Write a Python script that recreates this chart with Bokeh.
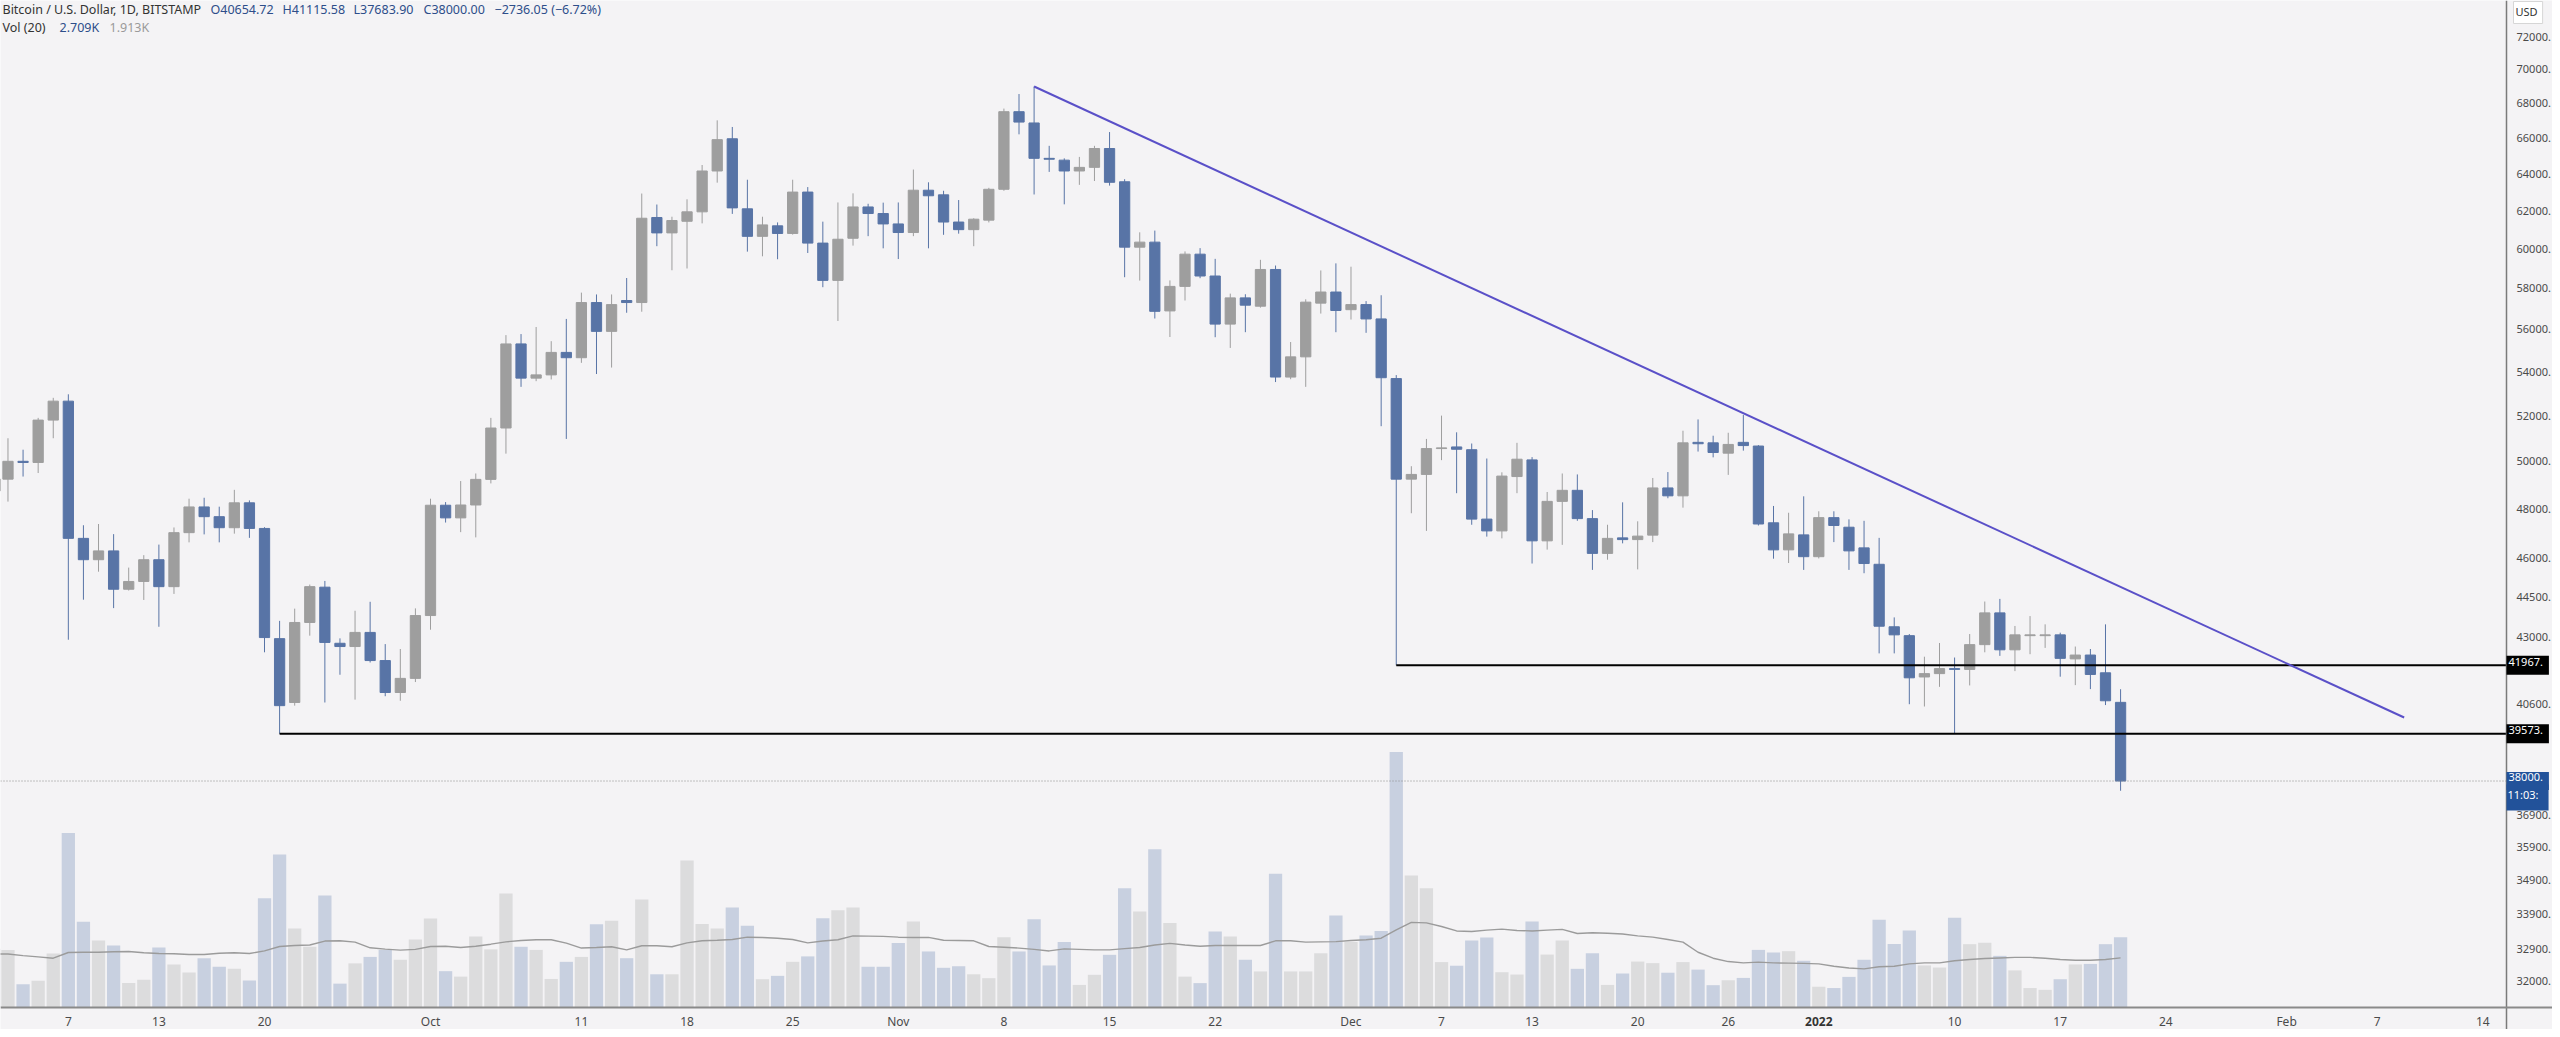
import math
import pandas as pd
from bokeh.plotting import figure
from bokeh.models import Range1d, LinearScale, Label, ColumnDataSource
from bokeh.core.properties import value
from bokeh.embed import file_html
from bokeh.resources import INLINE

# ---------------- data ----------------
first_day = "2021-09-02"
last_day = "2022-01-21"

opens = [
    48750, 49240, 50000, 49950, 51800, 52650, 46800, 45950, 46300, 44800,
    45100, 45950, 44900, 47030, 48080, 47680, 47230, 48250, 47200, 42940,
    40650, 43540, 44880, 42770, 42650, 43170, 42140, 41000, 41500,
    43800, 48150, 47630, 48160, 49230, 51450, 55300, 53700, 53850, 54900,
    54650, 57300, 55900, 57400, 57300, 61640, 60830, 61440, 61940, 64150,
    65950, 62100, 60650, 61200, 60800, 63000, 60300, 58400, 60550, 62200, 61850,
    61300, 60850, 63100, 62850, 61400, 61000, 61500, 63150, 67500, 66850,
    64850, 64750, 64150, 64350, 65400, 63560, 60090, 60350, 56890, 58100,
    59730, 58620, 56250, 57530, 57120, 58950, 53750, 54690, 57270, 57820,
    56950, 57200, 56500, 53680, 49240, 49440, 50550, 50620, 50500, 47580,
    47100, 49350, 50060, 46700, 48310, 48770, 47600, 46200, 46820, 46750,
    46930, 48870, 48540, 50820, 50800, 50350, 50820, 50660, 47430, 46340, 46940,
    46070, 47640, 47250, 46420, 45770, 43380, 43050, 41550, 41670, 41850,
    41820, 42720, 43900, 42530, 43050, 43050, 43080, 42200, 42340, 41700, 40654.72]

highs = [
    50400, 51000, 50500, 51900, 52800, 52960, 47330, 47380, 46970, 45640,
    46130, 46550, 47240, 48420, 48460, 48090, 48790, 48350, 47250, 43600,
    44060, 44980, 45120, 42950, 43980, 44320, 42740, 42560, 44070,
    48420, 48280, 49160, 49480, 51900, 55720, 55770, 56110, 55430, 56500,
    57790, 57700, 57700, 58520, 62920, 62330, 61680, 62610, 64480, 67000,
    66620, 63670, 61680, 61380, 63670, 63270, 61420, 62440, 62930, 62370, 62430,
    62440, 64230, 63530, 63070, 62570, 61600, 63230, 67680, 68530, 68975,
    65550, 64850, 64930, 65550, 66330, 63700, 60860, 60950, 58400, 59870,
    60040, 59490, 57740, 57710, 59440, 59150, 55390, 57460, 58900, 59260,
    59090, 57370, 57660, 53840, 49790, 50970, 52000, 51260, 50770, 50120,
    49530, 50800, 50180, 48700, 49480, 49440, 47950, 47350, 48270, 47490,
    49290, 49540, 51330, 51830, 51110, 51240, 52030, 50700, 48120, 47840, 48520,
    47900, 47900, 47570, 47510, 46820, 43730, 43110, 42280, 42780, 42250,
    43110, 44330, 44430, 43410, 43780, 43470, 43160, 42650, 42560, 43470, 41115.58]

lows = [
    48560, 48300, 49350, 49500, 51000, 42900, 44400, 45480, 44080, 44750,
    44390, 43380, 44620, 46640, 46960, 46640, 46990, 46820, 42440, 39573,
    40540, 43050, 40650, 41630, 40750, 42070, 40870, 40710, 41370,
    43270, 47440, 47050, 46840, 49060, 50330, 53300, 53560, 53640, 50970,
    54410, 53890, 54190, 56800, 56850, 60140, 58910, 59000, 61330, 63510,
    61830, 59860, 59620, 59470, 60740, 59790, 58060, 56400, 60170, 60660, 60030,
    59480, 60660, 60030, 60730, 60790, 60140, 61380, 63070, 66200, 62870,
    64100, 62340, 63390, 63600, 63350, 58560, 58390, 56520, 55630, 57400,
    58510, 55620, 55110, 55860, 57050, 53520, 53650, 53300, 56760, 55860,
    56470, 55830, 51530, 41967, 47820, 47100, 50050, 48650, 47350, 46870,
    46800, 48650, 45800, 46350, 46540, 47510, 45550, 45950, 46600, 45570,
    46650, 48440, 48050, 50420, 50170, 49420, 50460, 47320, 45990, 45820, 45550,
    46000, 46650, 45550, 45420, 42400, 42400, 40590, 40510, 41200, 39580,
    41250, 42440, 42310, 41760, 42370, 42600, 41560, 41260, 41120, 40560, 37683.90]

closes = [
    49240, 50000, 49950, 51800, 52650, 46800, 45950, 46300, 44800, 45100,
    45950, 44900, 47030, 48080, 47680, 47230, 48250, 47200, 42980, 40540,
    43540, 44900, 42800, 42650, 43170, 42140, 41000, 41500, 43800,
    48150, 47630, 48160, 49230, 51450, 55300, 53700, 53850, 54900, 54650,
    57300, 55900, 57200, 57300, 61600, 60830, 61480, 61940, 64150, 65900,
    62150, 60650, 61250, 60800, 63000, 60300, 58400, 60500, 62200, 61850, 61300,
    60850, 63100, 62800, 61400, 61000, 61550, 63150, 67500, 66900, 64850,
    64800, 64150, 64350, 65400, 63530, 60090, 60350, 56870, 58100, 59730,
    58620, 56250, 57530, 57170, 58950, 53750, 54690, 57320, 57820, 56910,
    57200, 56500, 53720, 49240, 49440, 50550, 50580, 50520, 47580, 47100,
    49370, 50090, 46700, 48310, 48770, 47600, 46200, 46800, 46750, 46890,
    48870, 48540, 50800, 50760, 50380, 50730, 50680, 47380, 46340, 46980, 46070,
    47640, 47320, 46300, 45800, 43400, 43080, 41520, 41670, 41850, 41820,
    42720, 43900, 42530, 43080, 43080, 43080, 42220, 42340, 41640, 40710, 38000.00]

volumes_k = [
    2.26, 2.22, 0.90, 1.03, 2.08, 6.72, 3.30, 2.58, 2.39, 0.94,
    1.07, 2.31, 1.66, 1.35, 1.90, 1.57, 1.49, 1.04, 4.21, 5.90,
    3.04, 2.34, 4.32, 0.92, 1.70, 1.95, 2.22, 1.84, 2.62,
    3.43, 1.40, 1.19, 2.74, 2.24, 4.39, 2.34, 2.22, 1.10, 1.76,
    1.95, 3.21, 3.34, 1.90, 4.16, 1.28, 1.28, 5.66, 3.22, 3.04,
    3.85, 3.15, 1.09, 1.22, 1.76, 1.97, 3.44, 3.75, 3.85, 1.57, 1.57,
    2.49, 3.31, 2.16, 1.53, 1.59, 1.28, 1.13, 2.71, 2.16, 3.40,
    1.62, 2.52, 0.87, 1.26, 2.03, 4.60, 3.70, 6.10, 3.26, 1.19,
    0.94, 2.93, 2.74, 1.84, 1.39, 5.15, 1.39, 1.39, 2.09, 3.55,
    2.52, 2.77, 2.95, 9.85, 5.09, 4.60, 1.75, 1.61, 2.58, 2.70,
    1.36, 1.27, 3.31, 2.04, 2.58, 1.49, 2.09, 0.87, 1.31, 1.77,
    1.71, 1.34, 1.75, 1.46, 0.86, 1.05, 1.14, 2.22, 2.12, 2.17, 1.80,
    0.80, 0.75, 1.18, 1.84, 3.38, 2.45, 2.97, 1.62, 1.54, 3.46,
    2.44, 2.50, 1.99, 1.43, 0.75, 0.68, 1.09, 1.66, 1.68, 2.44, 2.709]

vol_ma_k = [
    2.06, 2.06, 2.00, 1.95, 1.90, 2.12, 2.13, 2.13, 2.15, 2.16,
    2.11, 2.08, 2.07, 2.04, 2.04, 2.09, 2.11, 2.08, 2.18, 2.35,
    2.39, 2.41, 2.56, 2.57, 2.52, 2.30, 2.25, 2.21, 2.24,
    2.35, 2.36, 2.31, 2.36, 2.44, 2.53, 2.58, 2.61, 2.61, 2.48,
    2.29, 2.31, 2.34, 2.22, 2.38, 2.38, 2.34, 2.49, 2.57, 2.59,
    2.62, 2.71, 2.70, 2.67, 2.62, 2.49, 2.56, 2.61, 2.76, 2.75, 2.74,
    2.71, 2.70, 2.70, 2.59, 2.58, 2.57, 2.35, 2.32, 2.29, 2.24,
    2.18, 2.26, 2.24, 2.22, 2.22, 2.27, 2.31, 2.41, 2.47, 2.41,
    2.36, 2.39, 2.39, 2.39, 2.39, 2.57, 2.57, 2.52, 2.53, 2.54,
    2.58, 2.61, 2.67, 2.99, 3.28, 3.26, 3.12, 2.95, 2.93, 2.98,
    3.02, 2.97, 2.95, 2.98, 3.01, 2.85, 2.88, 2.86, 2.83, 2.76,
    2.71, 2.62, 2.52, 2.13, 1.90, 1.77, 1.72, 1.75, 1.72, 1.71, 1.70,
    1.68, 1.59, 1.52, 1.49, 1.57, 1.59, 1.68, 1.72, 1.72, 1.80,
    1.85, 1.89, 1.91, 1.93, 1.93, 1.90, 1.85, 1.82, 1.82, 1.85, 1.913]

x_tick_dates = ["2021-09-07", "2021-09-13", "2021-09-20", "2021-10-01", "2021-10-11",
                "2021-10-18", "2021-10-25", "2021-11-01", "2021-11-08", "2021-11-15",
                "2021-11-22", "2021-12-01", "2021-12-07", "2021-12-13", "2021-12-20",
                "2021-12-26", "2022-01-01", "2022-01-10", "2022-01-17", "2022-01-24",
                "2022-02-01", "2022-02-07", "2022-02-14"]
x_tick_labels = ["7", "13", "20", "Oct", "11", "18", "25", "Nov", "8", "15", "22",
                 "Dec", "7", "13", "20", "26", "2022", "10", "17", "24", "Feb", "7", "14"]
x_tick_bold = ["2022"]

price_ticks = [72000, 70000, 68000, 66000, 64000, 62000, 60000, 58000, 56000,
               54000, 52000, 50000, 48000, 46000, 44500, 43000, 40600, 36900, 35900,
               34900, 33900, 32900, 32000]

support_levels = [41967, 39573]
support_from = ["2021-12-04", "2021-09-21"]
trend_points_dates = ["2021-11-10", "2022-02-08 19:00"]
trend_points_prices = [68975, 40130]

legend_title = "Bitcoin / U.S. Dollar, 1D, BITSTAMP"
legend_ohlc = ["O40654.72", "H41115.58", "L37683.90", "C38000.00", "\u22122736.05 (\u22126.72%)"]
legend_vol = ["Vol (20)", "2.709K", "1.913K"]
countdown = "11:03:"
currency = "USD"

# ---------------- calibration (reference pixels) ----------------
ORIGIN = pd.Timestamp("2021-10-01")
PX_ORIGIN, PX_PER_DAY = 438.0, 15.09
PY_REF, P_REF, PX_PER_LN = 44.0, 72000.0, 1165.0
VOL_PX_PER_K = 25.95
AXIS_PX = 2514          # price-scale column starts here (reference px)
BASE_PY = 1015          # time-scale row starts here (reference px)


def day_of(d):
    return (pd.Timestamp(d) - ORIGIN) / pd.Timedelta(days=1)


def day_at(px):
    return (px - PX_ORIGIN) / PX_PER_DAY


def price_at(py):
    return P_REF * math.exp(-(py - PY_REF) / PX_PER_LN)


BG = "#f4f3f5"
UP = "#9e9e9e"
DOWN = "#5874a6"
VOL_UP = "#dcdcdd"
VOL_DOWN = "#c8d0e0"
FONT = "Noto Sans"
AX_FS = "11px"
AX_COLOR = "#4a4a4a"

dates = pd.date_range(first_day, last_day, freq="D")
n = len(dates)
assert all(len(a) == n for a in (opens, highs, lows, closes, volumes_k, vol_ma_k))
xs = [day_of(d) for d in dates]
up = [c >= o for o, c in zip(opens, closes)]

src = ColumnDataSource(dict(
    x=xs, o=opens, h=highs, l=lows, c=closes,
    top=[max(o, c) for o, c in zip(opens, closes)],
    bottom=[min(o, c) for o, c in zip(opens, closes)],
    color=[UP if u else DOWN for u in up],
    vol=volumes_k, vcolor=[VOL_UP if u else VOL_DOWN for u in up],
    ma=vol_ma_k,
))

W, H = 2552, 1029
x0, x1 = day_at(8), day_at(2560)
x_axis = day_at(AXIS_PX)
y_bot, y_top = price_at(1037), price_at(8)
y_base = price_at(BASE_PY)

p = figure(width=W, height=H, x_range=Range1d(x0, x1), y_range=Range1d(y_bot, y_top),
           y_axis_type="log", x_axis_location=None, y_axis_location=None, title=None,
           output_backend="svg", toolbar_location=None,
           background_fill_color=BG, border_fill_color=BG, outline_line_color=None,
           min_border=0)
p.grid.visible = False

p.extra_y_ranges = {"vol": Range1d(-(1037 - BASE_PY) / VOL_PX_PER_K,
                                   (BASE_PY - 8) / VOL_PX_PER_K)}
p.extra_y_scales = {"vol": LinearScale()}

# volume
p.vbar(x="x", top="vol", bottom=0, width=0.88, fill_color="vcolor", line_color=None,
       y_range_name="vol", source=src)
p.line(x="x", y="ma", line_color="#9b9b9b", line_width=1.4, y_range_name="vol", source=src)

# candles
p.segment(x0="x", y0="h", x1="x", y1="l", line_color="color", line_width=1, source=src)
p.vbar(x="x", top="top", bottom="bottom", width=0.68, fill_color="color",
       line_color="color", line_width=1, source=src)

# last price dotted line
p.segment(x0=[x0], y0=[closes[-1]], x1=[x_axis], y1=[closes[-1]], line_color="#8c8c8c",
          line_width=1, line_dash="1 2")

# support lines
for lvl, d in zip(support_levels, support_from):
    p.segment(x0=[day_of(d)], y0=[lvl], x1=[x_axis], y1=[lvl], line_color="#000000", line_width=2)

# trend line
p.line(x=[day_of(d) for d in trend_points_dates], y=trend_points_prices,
       line_color="#5a50c8", line_width=2)

# price scale (right column)
p.segment(x0=[x_axis], y0=[y_bot], x1=[x_axis], y1=[y_top], line_color="#7a7a7a", line_width=1.5)
p.text(x=[day_at(AXIS_PX + 10)] * len(price_ticks), y=price_ticks,
       text=[f"{t}." for t in price_ticks], text_font=value(FONT),
       text_font_size=value(AX_FS), text_color=AX_COLOR, text_baseline="middle",
       text_align="left")

# time scale (bottom row)
p.segment(x0=[x0], y0=[y_base], x1=[x1], y1=[y_base], line_color="#8a8a8a", line_width=2)
tick_days = [day_of(d) for d in x_tick_dates]
lab_y = price_at(1029)
reg = [(t, s) for t, s in zip(tick_days, x_tick_labels) if s not in x_tick_bold]
bold = [(t, s) for t, s in zip(tick_days, x_tick_labels) if s in x_tick_bold]
p.text(x=[t for t, _ in reg], y=[lab_y] * len(reg), text=[s for _, s in reg],
       text_font=value(FONT), text_font_size=value("12px"), text_color=AX_COLOR,
       text_baseline="middle", text_align="center")
p.text(x=[t for t, _ in bold], y=[lab_y] * len(bold), text=[s for _, s in bold],
       text_font=value(FONT), text_font_size=value("12px"), text_color="#333333",
       text_font_style="bold", text_baseline="middle", text_align="center")

# legend texts (top-left)
row1_y, row2_y = price_at(17), price_at(35)
p.add_layout(Label(x=day_at(10), y=row1_y, text=legend_title, text_font=FONT,
                   text_font_size="12.5px", text_color="#333333", text_baseline="middle"))
for txt, px in zip(legend_ohlc, [218, 290, 361, 431, 502]):
    p.add_layout(Label(x=day_at(px), y=row1_y, text=txt, text_font=FONT,
                       text_font_size="12.5px", text_color="#2d4e8a", text_baseline="middle"))
for txt, px, col in zip(legend_vol, [10, 67, 117], ["#333333", "#2d4e8a", "#9a9a9a"]):
    p.add_layout(Label(x=day_at(px), y=row2_y, text=txt, text_font=FONT,
                       text_font_size="12.5px", text_color=col, text_baseline="middle"))

# price boxes on the price scale
for lvl in support_levels:
    p.add_layout(Label(x=x_axis, y=lvl, text=f"{lvl}.", text_font=FONT, text_font_size=AX_FS,
                       text_color="#ffffff", background_fill_color="#000000",
                       text_baseline="middle", padding=(2, 6, 2, 9)))
p.add_layout(Label(x=x_axis, y=closes[-1], text=f"{closes[-1]:.0f}.", text_font=FONT,
                   text_font_size=AX_FS, text_color="#ffffff",
                   background_fill_color="#22529a", text_baseline="middle",
                   padding=(2, 6, 1, 9)))
p.add_layout(Label(x=x_axis, y=price_at(805), text=countdown, text_font=FONT,
                   text_font_size=AX_FS, text_color="#ffffff",
                   background_fill_color="#22529a", text_baseline="middle",
                   padding=(1, 10, 2, 9)))
p.add_layout(Label(x=day_at(AXIS_PX + 7), y=price_at(20), text=currency, text_font=FONT,
                   text_font_size=AX_FS, text_color="#333333",
                   background_fill_color="#ffffff", border_line_color="#d6d6d6",
                   text_baseline="middle", padding=(2, 5, 2, 5)))

open("out.html", "w").write(file_html(p, INLINE))
